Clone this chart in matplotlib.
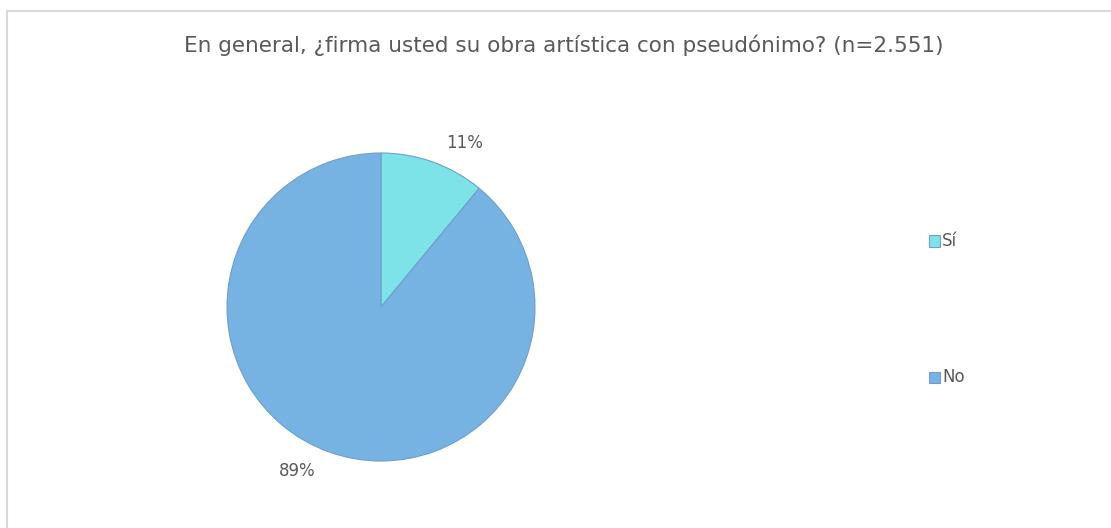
import matplotlib
matplotlib.use("Agg")
import matplotlib.pyplot as plt
from matplotlib.patches import Rectangle

# Survey answers
categories = ["Sí", "No"]
shares = [11, 89]
title = "En general, ¿firma usted su obra artística con pseudónimo? (n=2.551)"

colors = ["#7de3e8", "#76b3e2"]
edge = "#6d9fcf"
text_color = "#595959"
font = ["DejaVu Sans"]

W, H = 1111, 528
fig = plt.figure(figsize=(W / 100, H / 100), dpi=100)
fig.patch.set_facecolor("white")

# light frame around the chart area
fig.patches.append(Rectangle((7 / W, -0.1), 1.2, (H - 11) / H + 0.1,
                             transform=fig.transFigure, fill=False,
                             edgecolor="#d9d9d9", linewidth=1.5))

fig.text(563.5 / W, 1 - 45 / H, title, ha="center", va="center",
         fontsize=15.5, color=text_color, family=font)

# pie axes: square box in pixel space
cx, cy, r = 381, 307, 154
ax = fig.add_axes([(cx - r) / W, (H - cy - r) / H, 2 * r / W, 2 * r / H])
wedges, _ = ax.pie(shares, colors=colors, startangle=90, counterclock=False,
                   radius=1, wedgeprops=dict(edgecolor=edge, linewidth=0.8))
ax.set_xlim(-1, 1)
ax.set_ylim(-1, 1)
ax.set_aspect("auto")
ax.axis("off")

# percentage labels
label_pos = [(465, 143), (297, 471)]
for v, (px, py) in zip(shares, label_pos):
    fig.text(px / W, 1 - py / H, f"{v}%", ha="center", va="center",
             fontsize=12, color=text_color, family=font)

# legend
legend_pos = [(934, 241), (934, 377)]
for c, name, (px, py) in zip(colors, categories, legend_pos):
    s = 11
    fig.patches.append(Rectangle(((px - s / 2) / W, 1 - (py + s / 2) / H), s / W, s / H,
                                 transform=fig.transFigure, facecolor=c,
                                 edgecolor=edge, linewidth=0.8))
    fig.text((px + 8) / W, 1 - py / H, name, ha="left", va="center",
             fontsize=12, color=text_color, family=font)

fig.savefig("out.png", dpi=100, facecolor="white")
